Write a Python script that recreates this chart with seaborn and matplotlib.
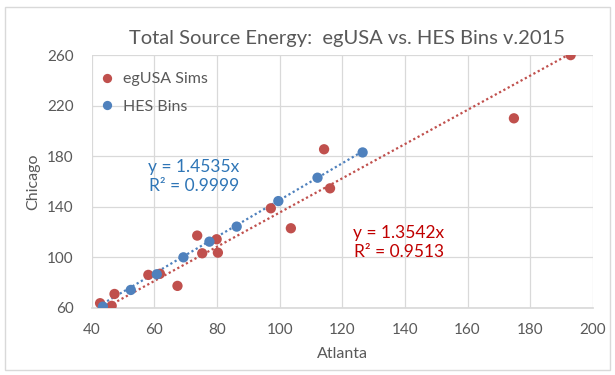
import numpy as np
import pandas as pd
import matplotlib
matplotlib.use("Agg")
import matplotlib.pyplot as plt
import seaborn as sns
from matplotlib.patches import Rectangle

# egUSA simulations: Atlanta vs Chicago total source energy
eg_atlanta = [42.7, 46.4, 47.3, 58.1, 61.8, 67.4, 73.7, 75.3, 79.9, 80.3,
              97.2, 103.6, 114.2, 116.1, 174.8, 192.9]
eg_chicago = [63.7, 61.6, 71.0, 86.1, 87.0, 77.4, 117.2, 103.2, 114.3, 103.7,
              138.8, 123.0, 185.5, 154.6, 210.0, 260.0]

# HES bins
hes_atlanta = [43.6, 52.5, 60.8, 69.3, 77.6, 86.3, 99.6, 112.1, 126.5]
hes_chicago = [61.0, 74.2, 86.6, 100.0, 112.4, 124.3, 144.5, 163.0, 183.0]

series_names = ["egUSA Sims", "HES Bins"]
slopes = {"egUSA Sims": 1.3542, "HES Bins": 1.4535}
r_squared = {"egUSA Sims": 0.9513, "HES Bins": 0.9999}

x_ticks = [40, 60, 80, 100, 120, 140, 160, 180, 200]
y_ticks = [60, 100, 140, 180, 220, 260]

RED = "#C0504D"
BLUE = "#4F81BD"
palette = {"egUSA Sims": RED, "HES Bins": BLUE}
GRAY = "#595959"

df = pd.DataFrame({
    "Atlanta": eg_atlanta + hes_atlanta,
    "Chicago": eg_chicago + hes_chicago,
    "series": [series_names[0]] * len(eg_atlanta) + [series_names[1]] * len(hes_atlanta),
})

# linear trendlines through the origin, over each series' x range
trend_rows = []
for name, xs in (("egUSA Sims", eg_atlanta), ("HES Bins", hes_atlanta)):
    for x in (min(xs), max(xs)):
        trend_rows.append({"Atlanta": x, "Chicago": slopes[name] * x, "series": name})
trend = pd.DataFrame(trend_rows)

sns.set_theme(style="white")
plt.rcParams["font.family"] = ["Lato", "DejaVu Sans"]

fig = plt.figure(figsize=(6.15, 3.75), dpi=100)
ax = fig.add_axes([0.149, 0.179, 0.815, 0.674])

sns.lineplot(data=trend, x="Atlanta", y="Chicago", hue="series", palette=palette,
             linestyle=(0, (1, 1.2)), linewidth=1.6, legend=False, ax=ax, zorder=2)
sns.scatterplot(data=df, x="Atlanta", y="Chicago", hue="series", palette=palette,
                s=55, edgecolor="none", ax=ax, zorder=3)

ax.set_xlim(40, 200)
ax.set_ylim(60, 260)
ax.set_xticks(x_ticks)
ax.set_yticks(y_ticks)
ax.grid(True, color="#D9D9D9", linewidth=0.9)
ax.set_axisbelow(True)
for side in ("top", "right", "left"):
    ax.spines[side].set_visible(False)
ax.spines["bottom"].set_color("#D9D9D9")
ax.tick_params(axis="x", length=0, labelsize=11, labelcolor=GRAY, pad=11)
ax.tick_params(axis="y", length=0, labelsize=11, labelcolor=GRAY, pad=13)

ax.set_xlabel("Atlanta", fontsize=11.5, color=GRAY, labelpad=7)
ax.set_ylabel("Chicago", fontsize=11.5, color=GRAY, labelpad=5)
ax.set_title("Total Source Energy:  egUSA vs. HES Bins v.2015",
             fontsize=14.5, color=GRAY, pad=8, x=0.51)

leg = ax.legend(loc="upper left", frameon=False, fontsize=11.5, handletextpad=0.0,
                borderaxespad=0.1, labelspacing=0.85, markerscale=0.9,
                bbox_to_anchor=(-0.018, 0.965))
for t in leg.get_texts():
    t.set_color(GRAY)

ax.text(72.7, 164, f"y = {slopes['HES Bins']}x\nR² = {r_squared['HES Bins']}",
        color="#2E75B6", fontsize=12.5, ha="center", va="center", linespacing=1.25)
ax.text(138, 112, f"y = {slopes['egUSA Sims']}x\nR² = {r_squared['egUSA Sims']}",
        color="#C00000", fontsize=12.5, ha="center", va="center", linespacing=1.25)

# chart area border
fig.patches.append(Rectangle((5 / 615, 5 / 375), 605 / 615, 363 / 375,
                             transform=fig.transFigure, fill=False,
                             edgecolor="#D9D9D9", linewidth=1.0))

fig.savefig("out.png", dpi=100)
